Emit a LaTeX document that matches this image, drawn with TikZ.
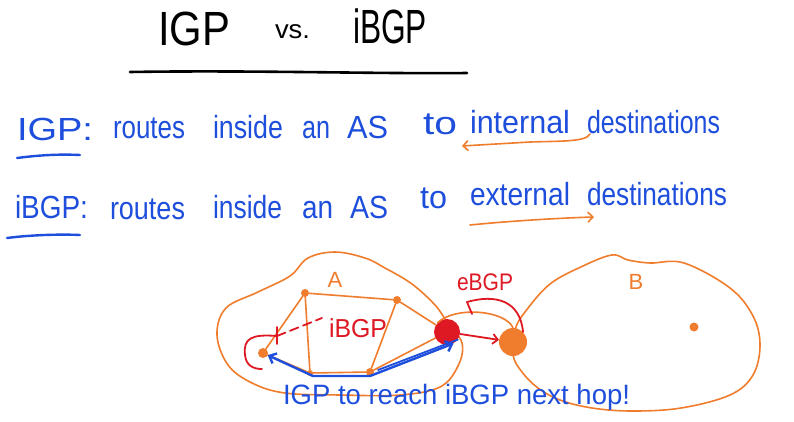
\documentclass[tikz,border=0pt]{standalone}
\usepackage{fontspec}
\usepackage{graphicx}
\setmainfont{Liberation Sans}
\usetikzlibrary{arrows.meta}
\definecolor{inkblue}{RGB}{30,78,220}
\definecolor{inkorange}{RGB}{240,125,45}
\definecolor{inkred}{RGB}{222,25,35}
\newcommand\hw[2]{\resizebox{#1pt}{\height}{#2}}
\begin{document}
\begin{tikzpicture}[x=1pt,y=-1pt,
  word/.style={anchor=base west, inner sep=0pt, outer sep=0pt},
  bword/.style={word, text=inkblue, font=\fontsize{32}{32}\selectfont},
  tword/.style={word, text=black, font=\fontsize{48}{48}\selectfont},
  oline/.style={draw=inkorange, line width=1.6pt, line cap=round, line join=round},
  rline/.style={draw=inkred, line width=1.8pt, line cap=round, line join=round},
  bline/.style={draw=inkblue, line width=2.4pt, line cap=round, line join=round},
  barb/.style={-{Straight Barb[length=5pt,width=10pt]}},
  odot/.style={circle, fill=inkorange, inner sep=0pt, minimum size=#1},
  odot/.default=8pt]
\useasboundingbox[fill=white] (0,0) rectangle (794,421);

% ---------- title ----------
\node[tword] (t1) at (158,45) {\hw{72}{IGP}};
\node[word, text=black, font=\fontsize{26}{26}\selectfont] (t2) at (275,38) {\hw{35}{vs.}};
\node[tword] (t3) at (353,43) {\hw{74}{iBGP}};
\coordinate (ul1) at (130,72);
\coordinate (ul2) at (467,73);
\draw[line width=2.6pt, line cap=round] (ul1) .. controls (250,70) and (380,74) .. (ul2);

% ---------- line 1 ----------
\node[bword] (a1) at (17,140) {\hw{76}{IGP:}};
\node[bword] (a2) at (113,138) {\hw{72}{routes}};
\node[bword] (a3) at (213,138) {\hw{70}{inside}};
\node[bword] (a4) at (302,138) {\hw{28}{an}};
\node[bword] (a5) at (347,138) {\hw{41}{AS}};
\node[bword] (a6) at (423,134) {\hw{34}{to}};
\node[bword] (a7) at (470,133) {\hw{100}{internal}};
\node[bword] (a8) at (587,133) {\hw{133}{destinations}};
\coordinate (u1a) at (17,158);
\coordinate (u1b) at (80,155);
\draw[bline] (u1a) .. controls (40,155) and (60,154) .. (u1b);
\coordinate (ar1a) at (590,134);
\coordinate (ar1b) at (462,146);
\draw[oline, barb] (ar1a) .. controls (586,142) and (560,141) .. (530,142) -- (ar1b);

% ---------- line 2 ----------
\node[bword] (b1) at (15,218) {\hw{73}{iBGP:}};
\node[bword] (b2) at (110,219) {\hw{75}{routes}};
\node[bword] (b3) at (213,218) {\hw{69}{inside}};
\node[bword] (b4) at (302,218) {\hw{31}{an}};
\node[bword] (b5) at (350,218) {\hw{38}{AS}};
\node[bword] (b6) at (420,208) {\hw{27}{to}};
\node[bword] (b7) at (470,205) {\hw{100}{external}};
\node[bword] (b8) at (587,205) {\hw{140}{destinations}};
\coordinate (u2a) at (7,238);
\coordinate (u2b) at (80,235);
\draw[bline] (u2a) .. controls (30,235) and (60,234) .. (u2b);
\coordinate (ar2a) at (470,225);
\coordinate (ar2b) at (594,217);
\draw[oline, barb] (ar2a) .. controls (510,221) and (560,218) .. (ar2b);

% ---------- AS blobs ----------
\draw[oline] plot[smooth cycle, tension=0.6] coordinates {
  (217,335) (226,308) (258,292) (290,276) (308,258) (335,252) (365,258)
  (385,268) (412,284) (435,305) (447,322) (462,343) (458,366) (440,387)
  (400,395) (340,395) (285,393) (252,383) (228,365)};
\draw[oline] plot[smooth cycle, tension=0.6] coordinates {
  (513,355) (515,330) (525,312) (550,284) (583,266) (612,255) (628,260)
  (650,263) (684,263) (730,288) (753,316) (760,345) (753,375) (730,395)
  (681,408) (632,411) (592,408) (560,400) (538,388) (522,372)};
\node[text=inkorange, font=\fontsize{22}{22}\selectfont, inner sep=0pt] (lA) at (335,280) {A};
\node[text=inkorange, font=\fontsize{22}{22}\selectfont, inner sep=0pt] (lB) at (636,282) {B};

% ---------- routers ----------
\node[odot] (tl) at (305,293) {};
\node[odot] (tr) at (397,300) {};
\node[odot=6pt] (bl) at (310,373) {};
\node[odot] (br) at (370,372) {};
\node[odot=10pt] (lf) at (263,353) {};
\node[circle, fill=inkred, inner sep=0pt, minimum size=26pt] (ra) at (447,332) {};
\node[circle, fill=inkorange, inner sep=0pt, minimum size=28pt] (rb) at (513,342) {};
\node[odot=9pt] (bd) at (694,327) {};

\draw[oline] (tl) -- (tr);
\draw[oline] (tl) -- (bl);
\draw[oline] (tr) -- (br);
\draw[oline] (tl) -- (lf);
\draw[oline] (lf) -- (bl);
\draw[oline] (bl) -- (br);
\draw[oline] (tr) -- (ra);
\draw[oline] (br) -- (ra);
\draw[oline] (ra.north west) .. controls (455,306) and (505,310) .. (rb.north);

% ---------- iBGP session ----------
\coordinate (ds1) at (277,336);
\coordinate (ds2) at (322,318);
\draw[rline, dashed, dash pattern=on 9pt off 5pt] (ds1) -- (ds2);
\coordinate (tk1) at (277,327);
\coordinate (tk2) at (277,344);
\draw[rline] (tk1) -- (tk2);
\coordinate (c1) at (277,336);
\coordinate (c2) at (262,369);
\draw[rline] (c1) .. controls (252,334) and (243,338) .. (245,355) .. controls (246,366) and (254,369) .. (c2);
\node[text=inkred, font=\fontsize{26}{26}\selectfont, inner sep=0pt] (lib) at (358,328) {\hw{58}{iBGP}};

% ---------- eBGP ----------
\node[text=inkred, font=\fontsize{24}{24}\selectfont, inner sep=0pt] (leb) at (485,282) {\hw{56}{eBGP}};
\draw[rline, barb] (ra) -- (rb);
\coordinate (e1) at (472,314);
\coordinate (e2) at (467,302);
\draw[rline] (e1) -- (e2) .. controls (495,294) and (520,300) .. (rb.north east);

% ---------- IGP path ----------
\coordinate (p1) at (313,376);
\coordinate (p2) at (370,376);
\draw[bline, {Straight Barb[length=6pt,width=11pt]}-{Straight Barb[length=6pt,width=11pt]}] (lf) -- (p1) -- (p2) -- (ra.-60);
\coordinate (p3) at (378,370);
\draw[bline, line width=1.8pt] (p3) -- (ra.-35);

\node[word, text=inkblue, font=\fontsize{28}{28}\selectfont] (cap) at (283,404) {\hw{347}{IGP to reach iBGP next hop!}};
\end{tikzpicture}
\end{document}
